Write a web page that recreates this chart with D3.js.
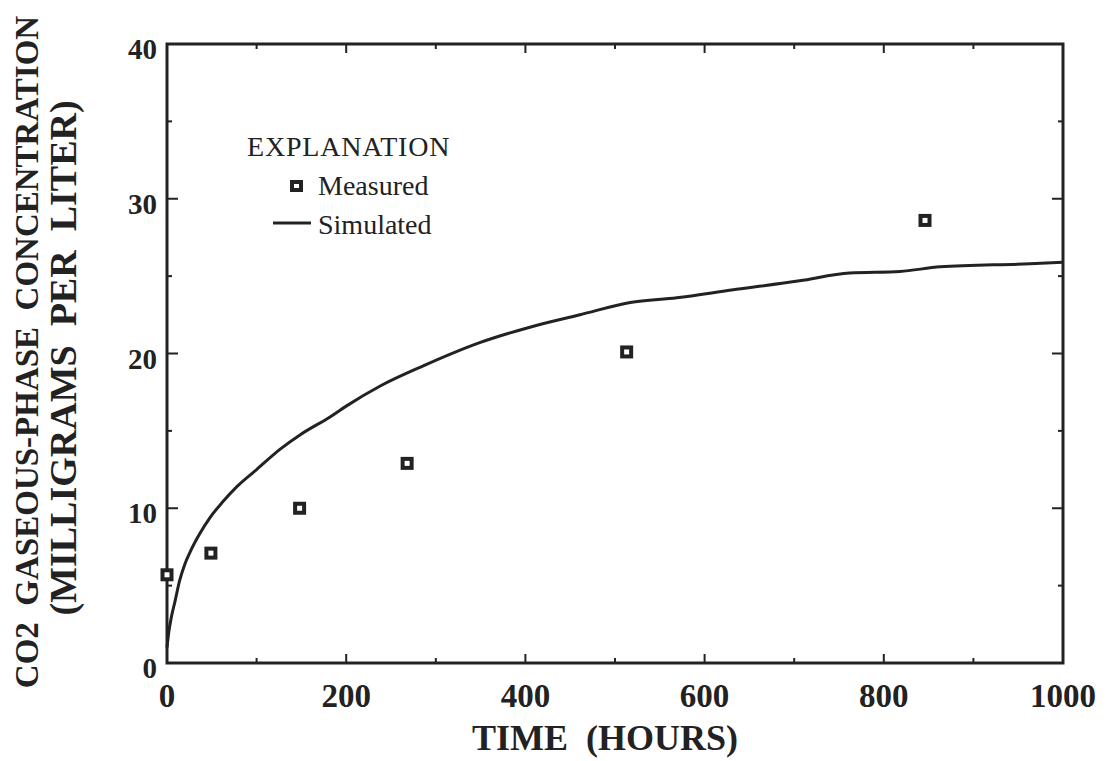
<!DOCTYPE html>
<html>
<head>
<meta charset="utf-8">
<script src="https://cdn.jsdelivr.net/npm/d3@7"></script>
<style>
  body { margin: 0; background: #fff; }
  svg text { font-family: "Liberation Serif", "Times New Roman", serif; fill: #222; white-space: pre; }
</style>
</head>
<body>
<svg id="chart" width="1108" height="761"></svg>
<script>
// measured CO2 gaseous-phase concentration
const measuredHours = [0, 49, 148, 268, 513, 846];
const measuredConc = [5.7, 7.1, 10.0, 12.9, 20.1, 28.6];

// simulated curve
const simHours = [0, 2, 5, 9, 14, 20, 26, 36, 48, 62, 78, 100, 126, 150, 182, 200, 238, 286, 349, 405, 461, 517, 569, 630, 706, 762, 818, 863, 963, 1000];
const simConc = [1.0, 2.0, 3.0, 4.0, 5.3, 6.4, 7.2, 8.3, 9.4, 10.4, 11.4, 12.5, 13.8, 14.8, 15.9, 16.6, 17.9, 19.2, 20.7, 21.7, 22.5, 23.3, 23.6, 24.1, 24.7, 25.2, 25.3, 25.6, 25.8, 25.9];

const xTicks = [0, 200, 400, 600, 800, 1000];
const yTicks = [0, 10, 20, 30, 40];

const ink = '#222';
const svg = d3.select('#chart');

const x = d3.scaleLinear().domain([0, 1000]).range([167, 1063]);
const y = d3.scaleLinear().domain([0, 40]).range([663, 44]);

// minor / major ticks, all pointing inward
const tickG = svg.append('g').attr('stroke', ink).attr('stroke-width', 2);
d3.range(0, 1001, 100).forEach((t) => {
  const len = t % 200 === 0 ? 9 : 5;
  tickG.append('line').attr('x1', x(t)).attr('x2', x(t)).attr('y1', y(0)).attr('y2', y(0) - len);
  tickG.append('line').attr('x1', x(t)).attr('x2', x(t)).attr('y1', y(40)).attr('y2', y(40) + len);
});
d3.range(0, 41, 5).forEach((v) => {
  const len = v % 10 === 0 ? 11 : 5;
  tickG.append('line').attr('x1', x(0)).attr('x2', x(0) + len).attr('y1', y(v)).attr('y2', y(v));
  tickG.append('line').attr('x1', x(1000)).attr('x2', x(1000) - len).attr('y1', y(v)).attr('y2', y(v));
});

// frame
svg.append('rect')
  .attr('x', x(0)).attr('y', y(40))
  .attr('width', x(1000) - x(0)).attr('height', y(0) - y(40))
  .attr('fill', 'none').attr('stroke', ink).attr('stroke-width', 3);

// tick labels
svg.append('g').selectAll('text')
  .data(xTicks)
  .enter()
  .append('text')
  .attr('x', (d) => x(d))
  .attr('y', y(0) + 44)
  .attr('text-anchor', 'middle')
  .attr('font-size', 33)
  .attr('font-weight', 'bold')
  .text((d) => d);

svg.append('g').selectAll('text')
  .data(yTicks)
  .enter()
  .append('text')
  .attr('x', 157)
  .attr('y', (d) => y(d) + 15)
  .attr('text-anchor', 'end')
  .attr('font-size', 29)
  .attr('font-weight', 'bold')
  .text((d) => d);

// axis titles
svg.append('text')
  .attr('x', 605).attr('y', 750)
  .attr('text-anchor', 'middle')
  .attr('font-size', 36)
  .attr('font-weight', 'bold')
  .text('TIME  (HOURS)');

svg.append('text')
  .attr('transform', 'translate(38,352) rotate(-90)')
  .attr('text-anchor', 'middle')
  .attr('font-size', 33)
  .attr('font-weight', 'bold')
  .text('CO2  GASEOUS-PHASE  CONCENTRATION');

svg.append('text')
  .attr('transform', 'translate(76,358) rotate(-90)')
  .attr('text-anchor', 'middle')
  .attr('font-size', 38)
  .attr('font-weight', 'bold')
  .text('(MILLIGRAMS  PER  LITER)');

// simulated line
const simData = simHours.map((h, i) => ({h: h, c: simConc[i]}));
const line = d3.line()
  .x((d) => x(d.h))
  .y((d) => y(d.c))
  .curve(d3.curveMonotoneX);

svg.append('path')
  .datum(simData)
  .attr('d', line)
  .attr('fill', 'none')
  .attr('stroke', ink)
  .attr('stroke-width', 3);

// measured points
const measData = measuredHours.map((h, i) => ({h: h, c: measuredConc[i]}));
svg.append('g').selectAll('rect')
  .data(measData)
  .enter()
  .append('rect')
  .attr('x', (d) => x(d.h) - 4.5)
  .attr('y', (d) => y(d.c) - 4.5)
  .attr('width', 9)
  .attr('height', 9)
  .attr('fill', '#fff')
  .attr('stroke', ink)
  .attr('stroke-width', 4);

// legend
const legend = svg.append('g');
legend.append('text')
  .attr('x', 247).attr('y', 156)
  .attr('font-size', 28)
  .attr('letter-spacing', 0.8)
  .text('EXPLANATION');
legend.append('rect')
  .attr('x', 292).attr('y', 182)
  .attr('width', 9).attr('height', 8)
  .attr('fill', '#fff').attr('stroke', ink).attr('stroke-width', 4);
legend.append('text')
  .attr('x', 318).attr('y', 195)
  .attr('font-size', 28)
  .text('Measured');
legend.append('line')
  .attr('x1', 273).attr('x2', 311)
  .attr('y1', 223).attr('y2', 223)
  .attr('stroke', ink).attr('stroke-width', 3);
legend.append('text')
  .attr('x', 318).attr('y', 234)
  .attr('font-size', 28)
  .text('Simulated');
</script>
</body>
</html>
